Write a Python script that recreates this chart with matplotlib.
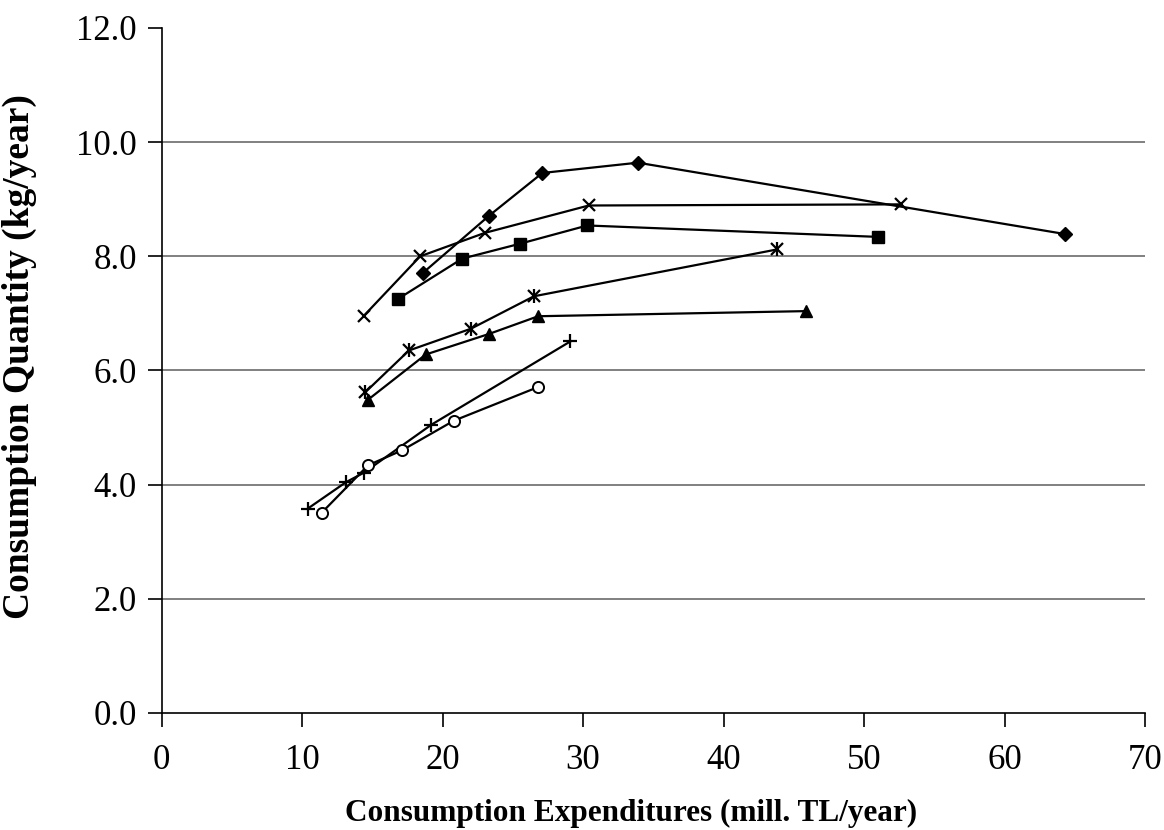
import matplotlib
matplotlib.use("Agg")
import matplotlib.pyplot as plt

# expenditure (x) / quantity (y) per series
diamond_x = [18.6, 23.3, 27.1, 33.9, 64.3]
diamond_y = [7.71, 8.71, 9.46, 9.64, 8.39]

cross_x = [14.4, 18.4, 23.0, 30.4, 52.6]
cross_y = [6.96, 8.00, 8.41, 8.89, 8.91]

square_x = [16.8, 21.4, 25.5, 30.3, 51.0]
square_y = [7.25, 7.96, 8.22, 8.54, 8.34]

star_x = [14.5, 17.6, 22.0, 26.5, 43.8]
star_y = [5.62, 6.35, 6.73, 7.30, 8.12]

triangle_x = [14.7, 18.8, 23.3, 26.8, 45.9]
triangle_y = [5.49, 6.28, 6.64, 6.95, 7.04]

plus_x = [10.4, 13.1, 14.4, 19.2, 29.1]
plus_y = [3.58, 4.04, 4.21, 5.05, 6.51]

circle_x = [11.4, 14.7, 17.1, 20.8, 26.8]
circle_y = [3.51, 4.34, 4.60, 5.12, 5.71]

x_ticks = [0, 10, 20, 30, 40, 50, 60, 70]
y_ticks = [0.0, 2.0, 4.0, 6.0, 8.0, 10.0, 12.0]

plt.rcParams["font.family"] = ["Liberation Serif", "DejaVu Serif"]

fig = plt.figure(figsize=(11.64, 8.30), dpi=100)
ax = fig.add_axes([0.1389, 0.141, 0.8448, 0.8253])

for yv in y_ticks[1:-1]:
    ax.axhline(yv, color="#808080", lw=1.4, zorder=0)

line_kw = dict(color="black", lw=1.6, markerfacecolor="black", markeredgecolor="black")
ax.plot(diamond_x, diamond_y, marker="D", ms=7, **line_kw)
ax.plot(cross_x, cross_y, marker="x", ms=9, mew=1.6, **line_kw)
ax.plot(square_x, square_y, marker="s", ms=8, **line_kw)
ax.plot(star_x, star_y, marker="x", ms=9, mew=1.6, **line_kw)
ax.plot(star_x, star_y, ls="none", marker="|", ms=10, mew=1.6, color="black")
ax.plot(triangle_x, triangle_y, marker="^", ms=9, **line_kw)
ax.plot(plus_x, plus_y, marker="+", ms=10, mew=1.6, **line_kw)
ax.plot(circle_x, circle_y, marker="o", ms=8, color="black", lw=1.6,
        markerfacecolor="white", markeredgecolor="black", mew=1.4)

ax.set_xlim(0, 70)
ax.set_ylim(0, 12)
ax.set_xticks(x_ticks)
ax.set_yticks(y_ticks)
ax.set_yticklabels([f"{v:.1f}" for v in y_ticks])
ax.tick_params(axis="both", direction="out", length=10, width=1.2, labelsize=25, pad=8)
ax.tick_params(axis="x", pad=12)

for side in ("top", "right"):
    ax.spines[side].set_visible(False)
for side in ("left", "bottom"):
    ax.spines[side].set_linewidth(1.2)

ax.set_xlabel("Consumption Expenditures (mill. TL/year)", fontsize=22.5,
              fontweight="bold")
ax.xaxis.set_label_coords(0.477, -0.125)
ax.set_ylabel("Consumption Quantity (kg/year)", fontsize=27,
              fontweight="bold")
ax.yaxis.set_label_coords(-0.127, 0.52)

fig.savefig("out.png", dpi=100)
